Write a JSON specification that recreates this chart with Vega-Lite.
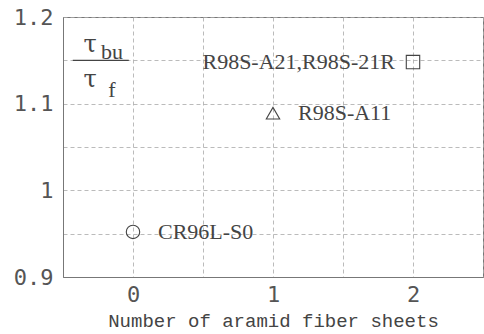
{
  "$schema": "https://vega.github.io/schema/vega-lite/v6.json",
  "width": 420,
  "height": 260,
  "autosize": {"type": "none"},
  "padding": {"left": 63, "top": 17, "right": 1, "bottom": 57},
  "background": "white",
  "config": {
    "view": {"stroke": "#777", "strokeWidth": 1},
    "axis": {
      "gridColor": "#aaa",
      "gridDash": [4, 3],
      "gridWidth": 0.8,
      "gridOpacity": 1,
      "domainColor": "#777",
      "tickColor": "#777",
      "labelColor": "#555",
      "labelFont": "DejaVu Sans Mono",
      "labelFontSize": 22,
      "titleFont": "Liberation Mono",
      "titleFontSize": 19,
      "titleFontWeight": "normal",
      "titleColor": "#444"
    }
  },
  "datasets": {
    "pts": [
      {"sheets": 0, "ratio": 0.952, "label": "CR96L-S0", "shape": "circle"},
      {"sheets": 1, "ratio": 1.089, "label": "R98S-A11", "shape": "triangle-up"},
      {"sheets": 2, "ratio": 1.148, "label": "R98S-A21,R98S-21R", "shape": "square"}
    ],
    "frac": [
      {"x": -0.307, "y": 1.168, "t": "τ"},
      {"x": -0.307, "y": 1.127, "t": "τ"}
    ],
    "subs": [
      {"x": -0.15, "y": 1.16, "t": "bu"},
      {"x": -0.15, "y": 1.116, "t": "f"}
    ],
    "bar": [{"x": -0.43, "x2": -0.03, "y": 1.15}]
  },
  "layer": [
    {
      "data": {"name": "pts"},
      "mark": {"type": "point", "filled": false, "color": "#444", "strokeWidth": 1.1, "opacity": 1},
      "encoding": {
        "x": {
          "field": "sheets", "type": "quantitative",
          "scale": {"domain": [-0.5, 2.5], "nice": false, "zero": false},
          "axis": {
            "values": [-0.5, 0, 0.5, 1, 1.5, 2, 2.5],
            "labelExpr": "datum.value % 1 == 0 ? format(datum.value, 'd') : ''",
            "title": "Number of aramid fiber sheets",
            "titlePadding": 6,
            "ticks": false,
            "labelPadding": 7,
            "domain": true
          }
        },
        "y": {
          "field": "ratio", "type": "quantitative",
          "scale": {"domain": [0.9, 1.2], "nice": false, "zero": false},
          "axis": {
            "values": [0.9, 0.95, 1.0, 1.05, 1.1, 1.15, 1.2],
            "labelExpr": "indexof(['0.9','1','1.1','1.2'], format(datum.value, '.2~f')) >= 0 ? format(datum.value, '.2~f') : ''",
            "title": null,
            "ticks": false,
            "labelPadding": 10
          }
        },
        "shape": {"field": "shape", "type": "nominal", "scale": null},
        "size": {"value": 180}
      }
    },
    {
      "data": {"name": "pts"},
      "transform": [{"filter": "datum.sheets < 2"}],
      "mark": {"type": "text", "align": "left", "baseline": "middle", "dx": 25, "font": "Liberation Serif", "fontSize": 22, "color": "#444"},
      "encoding": {
        "x": {"field": "sheets", "type": "quantitative"},
        "y": {"field": "ratio", "type": "quantitative"},
        "text": {"field": "label"}
      }
    },
    {
      "data": {"name": "pts"},
      "transform": [{"filter": "datum.sheets == 2"}],
      "mark": {"type": "text", "align": "right", "baseline": "middle", "dx": -18, "font": "Liberation Serif", "fontSize": 22, "color": "#444"},
      "encoding": {
        "x": {"field": "sheets", "type": "quantitative"},
        "y": {"field": "ratio", "type": "quantitative"},
        "text": {"field": "label"}
      }
    },
    {
      "data": {"name": "frac"},
      "mark": {"type": "text", "align": "center", "baseline": "middle", "font": "DejaVu Serif", "fontSize": 24, "color": "#444"},
      "encoding": {
        "x": {"field": "x", "type": "quantitative"},
        "y": {"field": "y", "type": "quantitative"},
        "text": {"field": "t"}
      }
    },
    {
      "data": {"name": "subs"},
      "mark": {"type": "text", "align": "center", "baseline": "middle", "font": "Liberation Serif", "fontSize": 22, "color": "#444"},
      "encoding": {
        "x": {"field": "x", "type": "quantitative"},
        "y": {"field": "y", "type": "quantitative"},
        "text": {"field": "t"}
      }
    },
    {
      "data": {"name": "bar"},
      "mark": {"type": "rule", "color": "#444", "strokeWidth": 1.2},
      "encoding": {
        "x": {"field": "x", "type": "quantitative"},
        "x2": {"field": "x2"},
        "y": {"field": "y", "type": "quantitative"}
      }
    }
  ]
}
